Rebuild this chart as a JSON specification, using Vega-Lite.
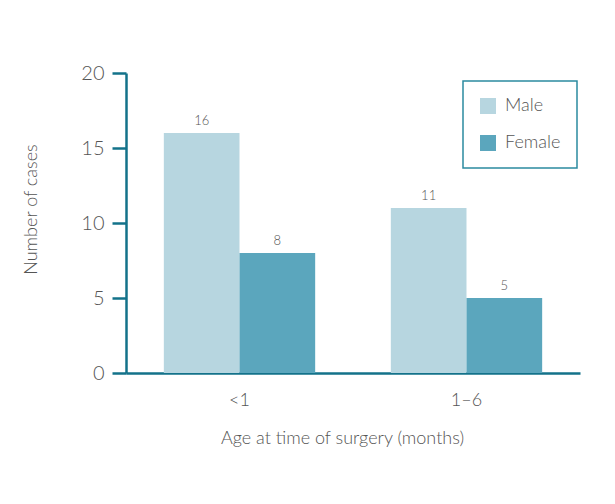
{
  "$schema": "https://vega.github.io/schema/vega-lite/v6.json",
  "width": 454,
  "height": 300,
  "autosize": {"type": "none"},
  "padding": {"left": 126, "top": 73, "right": 35, "bottom": 131},
  "background": "white",
  "config": {
    "view": {"stroke": null},
    "font": "Lato",
    "axis": {"labelFont": "Lato", "titleFont": "Lato", "labelFontWeight": 300, "titleFontWeight": 300},
    "legend": {"strokeColor": "#2b8aa0", "strokeWidth": 1.5}
  },
  "data": {
    "values": [
      {"age": "<1", "sex": "Male", "cases": 16},
      {"age": "<1", "sex": "Female", "cases": 8},
      {"age": "1–6", "sex": "Male", "cases": 11},
      {"age": "1–6", "sex": "Female", "cases": 5}
    ]
  },
  "encoding": {
    "x": {
      "field": "age", "type": "nominal", "sort": ["<1", "1–6"],
      "scale": {"paddingInner": 0.3333, "paddingOuter": 0.1667},
      "axis": {
        "title": "Age at time of surgery (months)",
        "labelAngle": 0, "ticks": false, "domainColor": "#13728a", "domainWidth": 2.5,
        "labelFontSize": 18, "labelColor": "#555", "labelPadding": 18,
        "titleFontSize": 18, "titleColor": "#555", "titlePadding": 20,
        "titleX": 216
      }
    },
    "xOffset": {"field": "sex", "type": "nominal", "sort": ["Male", "Female"]},
    "y": {
      "field": "cases", "type": "quantitative",
      "scale": {"domain": [0, 20]},
      "axis": {
        "title": "Number of cases", "values": [0, 5, 10, 15, 20], "grid": false,
        "domainColor": "#13728a", "domainWidth": 2.5, "tickColor": "#13728a", "tickWidth": 2.5, "tickSize": 14,
        "labelFontSize": 20, "labelColor": "#555", "labelPadding": 8,
        "titleFontSize": 18, "titleColor": "#555",
        "titleX": -95, "titleY": 136, "titleAlign": "center", "titleBaseline": "middle", "titleAngle": -90
      }
    }
  },
  "layer": [
    {
      "mark": {"type": "bar"},
      "encoding": {
        "color": {
          "field": "sex", "type": "nominal", "sort": ["Male", "Female"],
          "scale": {"domain": ["Male", "Female"], "range": ["#b7d6e0", "#5ba6bd"]},
          "legend": {
            "title": null, "orient": "none", "legendX": 337, "legendY": 8,
            "strokeColor": "#2b8aa0", "padding": 16,
            "symbolType": "square", "symbolSize": 256, "symbolStrokeWidth": 0,
            "labelFontSize": 18, "labelColor": "#555", "labelFont": "Lato", "labelFontWeight": 300,
            "rowPadding": 19, "labelOffset": 8
          }
        }
      }
    },
    {
      "mark": {"type": "text", "dy": -12, "fontSize": 13, "color": "#555", "font": "Lato", "fontWeight": 300},
      "encoding": {"text": {"field": "cases", "type": "quantitative"}}
    }
  ]
}
